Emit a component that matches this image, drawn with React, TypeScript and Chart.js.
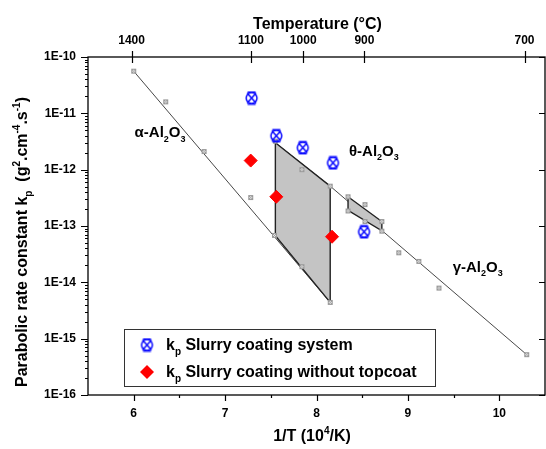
import React, { useEffect, useRef } from 'react';
import { Chart, registerables } from 'chart.js';
Chart.register(...registerables);

// ---- data ----
const xTicks = [6, 7, 8, 9, 10];
const xMinorTicks = [6.5, 7.5, 8.5, 9.5];
const topTempsC = [1400, 1100, 1000, 900, 700];
const yDecades = [1e-16, 1e-15, 1e-14, 1e-13, 1e-12, 1e-11, 1e-10];

const alphaLineX = [6.0, 8.15];
const alphaLineY = [5.6e-11, 4.4e-15];
const thetaGammaLineX = [7.55, 8.15, 10.3];
const thetaGammaLineY = [3.0e-12, 5.1e-13, 5.2e-16];

const bigZoneX = [7.55, 8.15, 8.15, 7.55, 7.55];
const bigZoneY = [3.0e-12, 5.1e-13, 4.4e-15, 6.7e-14, 3.0e-12];
const smallZoneX = [8.345, 8.715, 8.715, 8.345, 8.345];
const smallZoneY = [3.3e-13, 1.2e-13, 8.2e-14, 1.9e-13, 3.3e-13];

const litX = [6.0, 6.35, 6.77, 7.28, 7.55, 7.84, 8.15, 7.54, 7.84, 8.15, 8.345, 8.345, 8.53, 8.53, 8.715, 8.715, 8.9, 9.12, 9.34, 10.3];
const litY = [5.6e-11, 1.6e-11, 2.1e-12, 3.2e-13, 3.2e-12, 1.0e-12, 5.1e-13, 6.8e-14, 1.9e-14, 4.4e-15, 3.3e-13, 1.85e-13, 2.4e-13, 1.2e-13, 1.2e-13, 8.1e-14, 3.35e-14, 2.35e-14, 7.9e-15, 5.2e-16];

const slurryX = [7.29, 7.56, 7.85, 8.18, 8.52];
const slurryY = [1.87e-11, 4.0e-12, 2.45e-12, 1.32e-12, 7.9e-14];
const noTopX = [7.28, 7.56, 8.17];
const noTopY = [1.45e-12, 3.3e-13, 6.45e-14];

const alphaLabelPos = [6.01, 3.8e-12];
const thetaLabelPos = [8.355, 1.76e-12];
const gammaLabelPos = [9.49, 1.55e-14];

const FONT = "'Liberation Sans', Arial, sans-serif";

type Seg = { t: string; s?: 'sub' | 'sup' };

function segFont(size: number, seg: Seg) {
  const sz = seg.s ? Math.round(size * 0.62) : size;
  return `bold ${sz}px ${FONT}`;
}
function richWidth(ctx: CanvasRenderingContext2D, segs: Seg[], size: number) {
  let w = 0;
  for (const s of segs) {
    ctx.font = segFont(size, s);
    w += ctx.measureText(s.t).width;
  }
  return w;
}
function drawRich(ctx: CanvasRenderingContext2D, segs: Seg[], x: number, y: number, size: number, align: 'left' | 'center') {
  const w = richWidth(ctx, segs, size);
  let cx = align === 'center' ? x - w / 2 : x;
  ctx.textAlign = 'left';
  ctx.textBaseline = 'alphabetic';
  for (const s of segs) {
    ctx.font = segFont(size, s);
    const dy = s.s === 'sub' ? size * 0.3 : s.s === 'sup' ? -size * 0.42 : 0;
    ctx.fillText(s.t, cx, y + dy);
    cx += ctx.measureText(s.t).width;
  }
}

function makeBlueMarker() {
  const c = document.createElement('canvas');
  c.width = 15; c.height = 15;
  const g = c.getContext('2d')!;
  g.strokeStyle = '#0a0aff';
  g.lineWidth = 1.5;
  g.beginPath();
  g.arc(7.5, 7.5, 5.4, 0, Math.PI * 2);
  g.stroke();
  g.beginPath();
  g.moveTo(3, 2.5); g.lineTo(12, 12.5);
  g.moveTo(12, 2.5); g.lineTo(3, 12.5);
  g.moveTo(3.5, 1.6); g.lineTo(11.5, 1.6);
  g.moveTo(3.5, 13.4); g.lineTo(11.5, 13.4);
  g.stroke();
  return c;
}
function makeGrayMarker() {
  const c = document.createElement('canvas');
  c.width = 7; c.height = 7;
  const g = c.getContext('2d')!;
  g.fillStyle = '#ececec';
  g.fillRect(1, 1, 5, 5);
  g.strokeStyle = '#9a9a9a';
  g.lineWidth = 1;
  g.strokeRect(1.5, 1.5, 4, 4);
  g.beginPath();
  g.moveTo(1.5, 1.5); g.lineTo(5.5, 5.5);
  g.moveTo(5.5, 1.5); g.lineTo(1.5, 5.5);
  g.stroke();
  return c;
}

const pts = (xs: number[], ys: number[]) => xs.map((x, i) => ({ x, y: ys[i] }));

export default function App() {
  const ref = useRef<HTMLCanvasElement>(null);
  useEffect(() => {
    const canvas = ref.current!;
    const blue = makeBlueMarker();
    const gray = makeGrayMarker();

    const deco = {
      id: 'deco',
      afterDraw(chart: any) {
        const ctx: CanvasRenderingContext2D = chart.ctx;
        const ca = chart.chartArea;
        const sx = chart.scales.x;
        const sy = chart.scales.y;
        ctx.save();
        ctx.strokeStyle = '#000';
        ctx.fillStyle = '#000';
        ctx.lineWidth = 1.3;
        ctx.strokeRect(ca.left, ca.top, ca.right - ca.left, ca.bottom - ca.top);
        ctx.beginPath();
        for (const v of xTicks) {
          const p = Math.round(sx.getPixelForValue(v)) + 0.5;
          ctx.moveTo(p, ca.bottom); ctx.lineTo(p, ca.bottom + 6);
        }
        for (const v of xMinorTicks) {
          const p = Math.round(sx.getPixelForValue(v)) + 0.5;
          ctx.moveTo(p, ca.bottom); ctx.lineTo(p, ca.bottom + 3);
        }
        for (const t of topTempsC) {
          const p = Math.round(sx.getPixelForValue(1e4 / (t + 273.15))) + 0.5;
          ctx.moveTo(p, ca.top - 6); ctx.lineTo(p, ca.top + 6);
        }
        for (const d of yDecades) {
          const p = Math.round(sy.getPixelForValue(d)) + 0.5;
          ctx.moveTo(ca.left - 7, p); ctx.lineTo(ca.left, p);
          ctx.moveTo(ca.right - 6, p); ctx.lineTo(ca.right, p);
          if (d < 1e-10) {
            for (let m = 2; m <= 9; m++) {
              const q = Math.round(sy.getPixelForValue(d * m)) + 0.5;
              ctx.moveTo(ca.left - 3, q); ctx.lineTo(ca.left, q);
            }
          }
        }
        ctx.lineWidth = 1.2;
        ctx.stroke();

        drawRich(ctx, [{ t: 'Temperature (°C)' }], (ca.left + ca.right) / 2 + 1, 29, 16, 'center');
        drawRich(ctx, [{ t: '1/T (10' }, { t: '4', s: 'sup' }, { t: '/K)' }], 312, 441, 16, 'center');
        ctx.save();
        ctx.translate(27, 242);
        ctx.rotate(-Math.PI / 2);
        drawRich(ctx, [
          { t: 'Parabolic rate constant k' }, { t: 'p', s: 'sub' }, { t: '  (g' }, { t: '2', s: 'sup' },
          { t: '.cm' }, { t: '-4', s: 'sup' }, { t: '.s' }, { t: '-1', s: 'sup' }, { t: ')' },
        ], 0, 0, 16, 'center');
        ctx.restore();

        const lab = (pos: number[], name: string) => {
          drawRich(ctx, [{ t: name + '-Al' }, { t: '2', s: 'sub' }, { t: 'O' }, { t: '3', s: 'sub' }],
            sx.getPixelForValue(pos[0]), sy.getPixelForValue(pos[1]), 15, 'left');
        };
        lab(alphaLabelPos, 'α');
        lab(thetaLabelPos, 'θ');
        lab(gammaLabelPos, 'γ');

        ctx.lineWidth = 1;
        ctx.strokeStyle = '#333';
        ctx.fillStyle = '#fff';
        ctx.fillRect(124.5, 329.5, 311, 57);
        ctx.strokeRect(124.5, 329.5, 311, 57);
        ctx.drawImage(blue, 147 - 7.5, 345 - 7.5);
        ctx.fillStyle = '#ff0000';
        ctx.beginPath();
        ctx.moveTo(147, 365); ctx.lineTo(154, 372); ctx.lineTo(147, 379); ctx.lineTo(140, 372);
        ctx.closePath();
        ctx.fill();
        ctx.fillStyle = '#000';
        drawRich(ctx, [{ t: 'k' }, { t: 'p', s: 'sub' }, { t: ' Slurry coating system' }], 166, 350, 16, 'left');
        drawRich(ctx, [{ t: 'k' }, { t: 'p', s: 'sub' }, { t: ' Slurry coating without topcoat' }], 166, 377, 16, 'left');
        ctx.restore();
      },
    };

    const noPadH = (s: any, h: number) => { s.height = h; s.paddingLeft = 0; s.paddingRight = 0; s.paddingTop = 0; s.paddingBottom = 0; };
    const tickFont = { family: FONT, size: 12, weight: 'bold' as const };
    const chart = new Chart(canvas, {
      type: 'scatter',
      data: {
        datasets: [
          {
            label: 'kp Slurry coating without topcoat',
            data: pts(noTopX, noTopY),
            pointStyle: 'rectRot', pointRadius: 6.5,
            backgroundColor: '#ff0000', borderColor: '#ff0000', borderWidth: 1,
          },
          {
            label: 'kp Slurry coating system',
            data: pts(slurryX, slurryY),
            pointStyle: blue as any, pointRadius: 7,
          },
          {
            label: 'literature',
            data: pts(litX, litY),
            pointStyle: gray as any, pointRadius: 3,
          },
          {
            label: 'small zone',
            data: pts(smallZoneX, smallZoneY),
            showLine: true, pointRadius: 0, fill: 'shape',
            backgroundColor: '#c4c4c4', borderColor: '#222', borderWidth: 1.4,
          },
          {
            label: 'big zone',
            data: pts(bigZoneX, bigZoneY),
            showLine: true, pointRadius: 0, fill: 'shape',
            backgroundColor: '#c4c4c4', borderColor: '#222', borderWidth: 1.4,
          },
          {
            label: 'theta-gamma',
            data: pts(thetaGammaLineX, thetaGammaLineY),
            showLine: true, pointRadius: 0, borderColor: '#333', borderWidth: 0.9,
          },
          {
            label: 'alpha',
            data: pts(alphaLineX, alphaLineY),
            showLine: true, pointRadius: 0, borderColor: '#333', borderWidth: 0.9,
          },
        ] as any,
      },
      options: {
        animation: false,
        responsive: false,
        devicePixelRatio: 1,
        layout: { autoPadding: false, padding: { left: 0, right: 1, top: 0, bottom: 0 } },
        plugins: { legend: { display: false }, tooltip: { enabled: false } },
        scales: {
          x: {
            type: 'linear', position: 'bottom', min: 5.5, max: 10.5,
            grid: { display: false, drawTicks: false }, border: { display: false },
            afterBuildTicks: (s: any) => { s.ticks = xTicks.map((v) => ({ value: v })); },
            afterFit: (s: any) => noPadH(s, 54),
            ticks: { font: tickFont, color: '#000', padding: 11, maxRotation: 0, autoSkip: false, callback: (v: any) => String(v) },
          },
          xTop: {
            type: 'linear', position: 'top', min: 5.5, max: 10.5,
            grid: { display: false, drawTicks: false }, border: { display: false },
            afterBuildTicks: (s: any) => { s.ticks = topTempsC.map((t) => ({ value: 1e4 / (t + 273.15) })); },
            afterFit: (s: any) => noPadH(s, 57),
            ticks: { font: tickFont, color: '#000', padding: 9, maxRotation: 0, autoSkip: false, callback: (_v: any, i: number) => String(topTempsC[i]) },
          },
          y: {
            type: 'logarithmic', position: 'left', min: 1e-16, max: 1e-10,
            grid: { display: false, drawTicks: false }, border: { display: false },
            afterBuildTicks: (s: any) => { s.ticks = yDecades.map((v) => ({ value: v })); },
            afterFit: (s: any) => { s.width = 88; s.paddingLeft = 0; s.paddingRight = 0; s.paddingTop = 0; s.paddingBottom = 0; },
            ticks: { font: tickFont, color: '#000', padding: 12, autoSkip: false, callback: (v: any) => '1E' + Math.round(Math.log10(v)) },
          },
        },
      } as any,
      plugins: [deco],
    });
    return () => chart.destroy();
  }, []);
  return (
    <div style={{ position: 'fixed', left: 0, top: 0, width: 546, height: 449, background: '#fff' }}>
      <canvas ref={ref} width={546} height={449} style={{ display: 'block' }} />
    </div>
  );
}
